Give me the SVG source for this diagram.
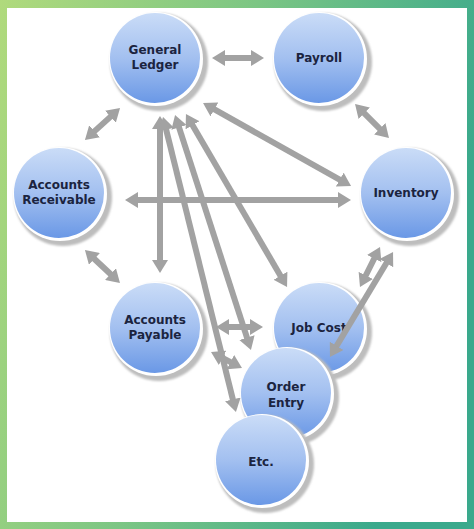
<svg xmlns="http://www.w3.org/2000/svg" width="474" height="529" viewBox="0 0 474 529">
<defs>
<linearGradient id="frame" x1="0" y1="0" x2="1" y2="0.3">
<stop offset="0" stop-color="#b0da7c"/>
<stop offset="0.5" stop-color="#7cc684"/>
<stop offset="1" stop-color="#3aa98c"/>
</linearGradient>
<linearGradient id="ball" x1="0" y1="0" x2="0" y2="1">
<stop offset="0" stop-color="#cadcf7"/>
<stop offset="0.5" stop-color="#a3c0f0"/>
<stop offset="1" stop-color="#6a98e6"/>
</linearGradient>
<filter id="blur" x="-20%" y="-20%" width="140%" height="140%">
<feGaussianBlur stdDeviation="1.2"/>
</filter>
<marker id="ah" viewBox="0 0 13 16" markerWidth="13" markerHeight="16" refX="4" refY="8" orient="auto-start-reverse" markerUnits="userSpaceOnUse">
<path d="M0,0 L13,8 L0,16 Z" fill="#a2a2a2"/>
</marker>
</defs>
<style>
.sh{fill:#bdbdbd;filter:url(#blur)}
.wr{fill:#ffffff}
.bl{fill:url(#ball)}
.lb{font-family:"DejaVu Sans","Verdana",sans-serif;font-weight:bold;font-size:12px;fill:#1b2440;text-anchor:middle}
.cn{fill:none;stroke:#a2a2a2;stroke-width:6;marker-start:url(#ah);marker-end:url(#ah)}
</style>
<rect x="0" y="0" width="474" height="529" fill="url(#frame)"/>
<rect x="7" y="8" width="460" height="514" fill="#ffffff"/>

<g id="general-ledger">
<circle class="sh" cx="159" cy="62" r="49"/>
<circle class="wr" cx="156" cy="59" r="47"/>
<circle class="bl" cx="155" cy="58" r="45"/>
<text class="lb" x="155" y="54">General</text>
<text class="lb" x="155" y="69">Ledger</text>
</g>
<g id="payroll">
<circle class="sh" cx="323" cy="62" r="49"/>
<circle class="wr" cx="320" cy="59" r="47"/>
<circle class="bl" cx="319" cy="58" r="45"/>
<text class="lb" x="319" y="62">Payroll</text>
</g>
<g id="accounts-receivable">
<circle class="sh" cx="63" cy="197" r="49"/>
<circle class="wr" cx="60" cy="194" r="47"/>
<circle class="bl" cx="59" cy="193" r="45"/>
<text class="lb" x="59" y="189">Accounts</text>
<text class="lb" x="59" y="204">Receivable</text>
</g>
<g id="inventory">
<circle class="sh" cx="410" cy="197" r="49"/>
<circle class="wr" cx="407" cy="194" r="47"/>
<circle class="bl" cx="406" cy="193" r="45"/>
<text class="lb" x="406" y="197">Inventory</text>
</g>
<g id="accounts-payable">
<circle class="sh" cx="159" cy="332" r="49"/>
<circle class="wr" cx="156" cy="329" r="47"/>
<circle class="bl" cx="155" cy="328" r="45"/>
<text class="lb" x="155" y="324">Accounts</text>
<text class="lb" x="155" y="339">Payable</text>
</g>
<g id="job-cost">
<circle class="sh" cx="323" cy="332" r="49"/>
<circle class="wr" cx="320" cy="329" r="47"/>
<circle class="bl" cx="319" cy="328" r="45"/>
<text class="lb" x="319" y="332">Job Cost</text>
</g>
<g id="order-entry">
<circle class="sh" cx="290" cy="397" r="49"/>
<circle class="wr" cx="287" cy="394" r="47"/>
<circle class="bl" cx="286" cy="393" r="45"/>
<text class="lb" x="286" y="391">Order</text>
<text class="lb" x="286" y="407">Entry</text>
</g>
<g id="etc">
<circle class="sh" cx="265" cy="464" r="49"/>
<circle class="wr" cx="262" cy="461" r="47"/>
<circle class="bl" cx="261" cy="460" r="45"/>
<text class="lb" x="261" y="466">Etc.</text>
</g>

<g id="connectors">
<path class="cn" d="M221,58 L255,58"/>
<path class="cn" d="M113.4,114.1 L91.6,133.9"/>
<path class="cn" d="M361.4,110.4 L382.6,131.6"/>
<path class="cn" d="M210.9,107.4 L343.2,181.6"/>
<path class="cn" d="M134,200 L342,200"/>
<path class="cn" d="M160,125 L160,264"/>
<path class="cn" d="M165.2,125.7 L233.8,403.3"/>
<path class="cn" d="M177.8,123.6 L248.2,341.4"/>
<path class="cn" d="M190.5,121.8 L282.5,279.2"/>
<path class="cn" d="M91.5,256.2 L113.4,276.8"/>
<path class="cn" d="M225,327 L254,327"/>
<path class="cn" d="M219,356.1 L234,363.9"/>
<path class="cn" d="M376,255 L364,279"/>
<path class="cn" d="M388.4,259.7 L334.6,349.3"/>
</g>
</svg>
